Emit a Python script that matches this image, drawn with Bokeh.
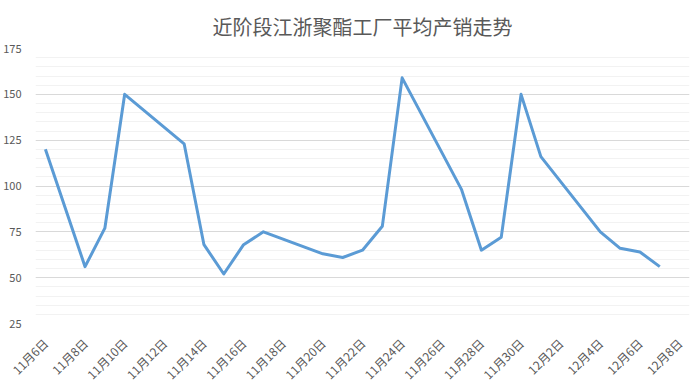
import pandas as pd
from bokeh.plotting import figure
from bokeh.models import FixedTicker, SingleIntervalTicker, Range1d
from bokeh.embed import file_html
from bokeh.resources import INLINE

title_text = "近阶段江浙聚酯工厂平均产销走势"
dates = ["2017-11-06", "2017-11-08", "2017-11-09", "2017-11-10", "2017-11-13",
         "2017-11-14", "2017-11-15", "2017-11-16", "2017-11-17", "2017-11-20",
         "2017-11-21", "2017-11-22", "2017-11-23", "2017-11-24", "2017-11-27",
         "2017-11-28", "2017-11-29", "2017-11-30", "2017-12-01", "2017-12-04",
         "2017-12-05", "2017-12-06", "2017-12-07"]
values = [120, 56, 77, 150, 123, 68, 52, 68, 75, 63, 61, 65, 78, 159, 98,
          65, 72, 150, 116, 75, 66, 64, 56]
tick_dates = ["2017-11-06", "2017-11-08", "2017-11-10", "2017-11-12", "2017-11-14",
              "2017-11-16", "2017-11-18", "2017-11-20", "2017-11-22", "2017-11-24",
              "2017-11-26", "2017-11-28", "2017-11-30", "2017-12-02", "2017-12-04",
              "2017-12-06", "2017-12-08"]
tick_labels = ["11月6日", "11月8日", "11月10日", "11月12日", "11月14日", "11月16日",
               "11月18日", "11月20日", "11月22日", "11月24日", "11月26日", "11月28日",
               "11月30日", "12月2日", "12月4日", "12月6日", "12月8日"]
y_min, y_max, y_step = 25, 175, 25

start = pd.Timestamp(dates[0])
xs = [(pd.Timestamp(d) - start).days for d in dates]
tx = [(pd.Timestamp(d) - start).days for d in tick_dates]

FONT = "Noto Sans CJK SC"
GREY = "#595959"

p = figure(frame_width=654, frame_height=275, output_backend="svg", toolbar_location=None,
           x_range=Range1d(tx[0] - 0.5, tx[-1] + 0.5),
           y_range=Range1d(y_min, y_max),
           min_border_left=26, min_border_right=4, min_border_top=48, min_border_bottom=10)

p.title.text = title_text
p.title.align = "center"
p.title.standoff = 16
p.title.text_font = FONT
p.title.text_font_size = "20px"
p.title.text_font_style = "normal"
p.title.text_color = GREY

p.line(xs, values, line_color="#5B9BD5", line_width=3, line_join="round")

p.xaxis.ticker = FixedTicker(ticks=tx)
p.xaxis.major_label_overrides = {t: l for t, l in zip(tx, tick_labels)}
p.xaxis.major_label_orientation = 0.785398
p.xaxis.axis_line_color = None
p.xaxis.major_tick_line_color = None
p.xaxis.minor_tick_line_color = None
p.xaxis.major_label_text_font = FONT
p.xaxis.major_label_text_font_size = "12px"
p.xaxis.major_label_text_color = GREY
p.xaxis.major_label_standoff = 11

p.yaxis.ticker = SingleIntervalTicker(interval=y_step, num_minor_ticks=5)
p.yaxis.axis_line_color = None
p.yaxis.major_tick_line_color = None
p.yaxis.minor_tick_line_color = None
p.yaxis.major_label_text_font = FONT
p.yaxis.major_label_text_font_size = "11px"
p.yaxis.major_label_text_color = GREY
p.yaxis.major_label_standoff = 8

p.xgrid.grid_line_color = None
p.ygrid.grid_line_color = "#D9D9D9"
p.ygrid.minor_grid_line_color = "#F2F2F2"
p.outline_line_color = None
p.background_fill_color = "white"
p.border_fill_color = "white"

open("out.html", "w").write(file_html(p, INLINE))
